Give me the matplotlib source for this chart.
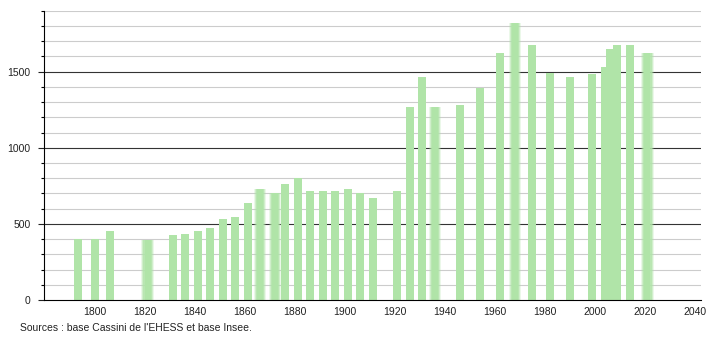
import matplotlib
matplotlib.use('Agg')
import matplotlib.pyplot as plt
from matplotlib.ticker import MultipleLocator
import numpy as np

plt.rcParams['font.family'] = ['Liberation Sans', 'DejaVu Sans']

years = [1793, 1800, 1806, 1821, 1831, 1836, 1841, 1846, 1851, 1856,
         1861, 1866, 1872, 1876, 1881, 1886, 1891, 1896, 1901, 1906,
         1911, 1921, 1926, 1931, 1936, 1946, 1954, 1962, 1968, 1975,
         1982, 1990, 1999, 2004, 2006, 2009, 2014, 2021]
population = [400, 400, 455, 392, 428, 433, 450, 475, 534, 546,
              640, 731, 706, 759, 800, 713, 718, 718, 732, 706,
              673, 717, 1268, 1462, 1270, 1278, 1390, 1625, 1820, 1672,
              1490, 1462, 1482, 1532, 1650, 1672, 1672, 1620]
# bars that look smeared in the original
blurred = [1821, 1866, 1872, 1936, 1968, 2021]

xticks = list(range(1800, 2041, 20))
source = "Sources : base Cassini de l'EHESS et base Insee."

green = '#b0e4a8'

fig = plt.figure(figsize=(7.1, 3.4), dpi=100)
ax = fig.add_axes([0.0624, 0.1176, 0.9245, 0.851])

for y in range(100, 1901, 100):
    if y % 500 == 0:
        ax.axhline(y, color='#333333', lw=0.8, zorder=1)
    else:
        ax.axhline(y, color='#cccccc', lw=0.8, zorder=1)

for yr, v in zip(years, population):
    if yr in blurred:
        for w, a in [(5.0, 0.25), (4.2, 0.45), (3.4, 0.7), (2.4, 1.0)]:
            ax.bar(yr, v, width=w, color=green, alpha=a, lw=0, zorder=2)
    else:
        ax.bar(yr, v, width=3.2, color=green, lw=0, zorder=2)

ax.set_xlim(1779.7, 2042.3)
ax.set_ylim(0, 1900)

ax.set_xticks(xticks)
ax.yaxis.set_major_locator(MultipleLocator(500))
ax.yaxis.set_minor_locator(MultipleLocator(100))
ax.tick_params(axis='x', length=0, labelsize=7.5, pad=5, colors='#222222')
ax.tick_params(axis='y', which='major', length=4, width=0.8, labelsize=7.5, pad=6, colors='#222222')
ax.tick_params(axis='y', which='minor', length=2.5, width=0.8)

for s in ['top', 'right']:
    ax.spines[s].set_visible(False)
ax.spines['left'].set_color('black')
ax.spines['bottom'].set_color('black')
ax.spines['left'].set_zorder(3)
ax.spines['bottom'].set_zorder(3)

fig.text(20 / 710, 1 - 328 / 340, source, fontsize=7.5, color='#222222', va='center', ha='left')

fig.savefig('out.png', dpi=100)
